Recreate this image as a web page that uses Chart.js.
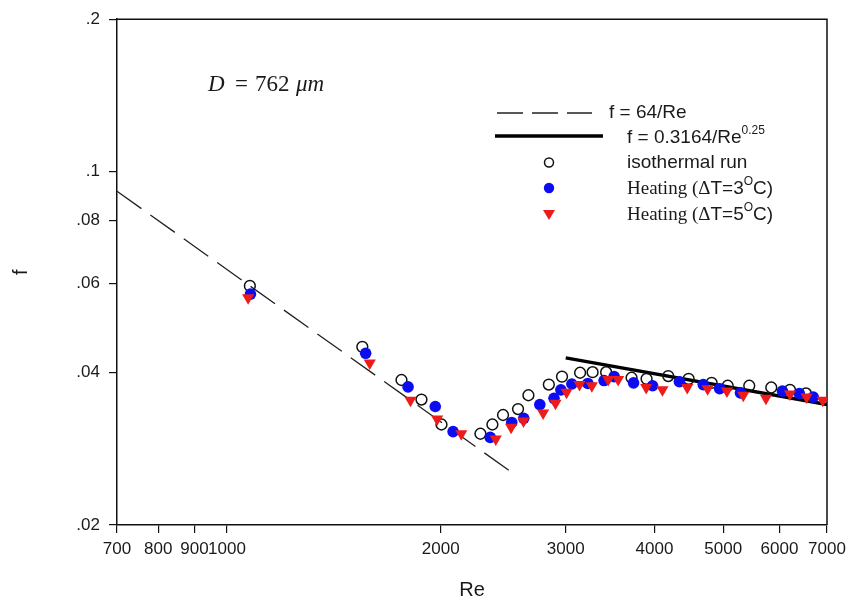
<!DOCTYPE html>
<html>
<head>
<meta charset="utf-8">
<script src="https://cdn.jsdelivr.net/npm/chart.js@4.4.1/dist/chart.umd.min.js"></script>
<style>
  html, body { margin: 0; padding: 0; background: #fff; }
  #wrap { width: 853px; height: 605px; position: relative; }
</style>
</head>
<body>
<div id="wrap"><canvas id="c" width="853" height="605"></canvas></div>
<script>
// ---- data ----
const isoRe = [1077, 1551, 1761, 1879, 2005, 2275, 2365, 2448, 2570, 2658, 2840, 2964, 3143, 3273, 3420, 3714, 3899, 4183, 4469, 4815, 5073, 5440, 5843, 6208, 6538];
const isoF  = [0.0594, 0.0450, 0.0387, 0.0354, 0.0316, 0.0303, 0.0316, 0.0330, 0.0339, 0.0361, 0.0379, 0.0393, 0.0400, 0.0401, 0.0401, 0.0391, 0.0389, 0.0394, 0.0389, 0.0382, 0.0377, 0.0377, 0.0374, 0.0370, 0.0364];

const heat3Re = [1079, 1568, 1799, 1965, 2082, 2348, 2518, 2618, 2758, 2888, 2953, 3060, 3223, 3397, 3510, 3738, 3976, 4337, 4686, 4942, 5287, 6058, 6398, 6695];
const heat3F  = [0.0572, 0.0437, 0.0375, 0.0343, 0.0306, 0.0298, 0.0319, 0.0325, 0.0346, 0.0356, 0.0370, 0.0380, 0.0381, 0.0386, 0.0393, 0.0382, 0.0377, 0.0384, 0.0379, 0.0372, 0.0365, 0.0368, 0.0364, 0.0358];

const heat5Re = [1071, 1589, 1813, 1977, 2138, 2391, 2513, 2616, 2788, 2902, 3008, 3137, 3265, 3443, 3556, 3894, 4105, 4449, 4753, 5060, 5335, 5743, 6208, 6553, 6903];
const heat5F  = [0.0563, 0.0418, 0.0353, 0.0324, 0.0303, 0.0296, 0.0312, 0.0321, 0.0333, 0.0348, 0.0366, 0.0379, 0.0377, 0.0388, 0.0388, 0.0374, 0.0370, 0.0374, 0.0372, 0.0368, 0.0361, 0.0356, 0.0363, 0.0358, 0.0353];

const lamRe  = [700, 2500];      // f = 64/Re
const lamF   = [0.0914, 0.0256];
const turbRe = [3000, 7000];     // f = 0.3164/Re^0.25
const turbF  = [0.0428, 0.0346];

const xTicks = [700, 800, 900, 1000, 2000, 3000, 4000, 5000, 6000, 7000];
const yTicks = [0.02, 0.04, 0.06, 0.08, 0.1, 0.2];

const pts = (xs, ys) => xs.map((x, i) => ({ x: x, y: ys[i] }));

const SANS = '"Liberation Sans", Arial, sans-serif';
const SERIF = '"Liberation Serif", "Times New Roman", serif';
const TXT = '#1a1a1a';

// frame (top/right) + legend + annotation
const decor = {
  id: 'decor',
  beforeDatasetsDraw(chart) {
    const { ctx, chartArea: a } = chart;
    ctx.save();
    ctx.strokeStyle = '#111';
    ctx.lineWidth = 1.5;
    ctx.beginPath();
    ctx.moveTo(a.left, a.top);
    ctx.lineTo(a.right, a.top);
    ctx.lineTo(a.right, a.bottom);
    ctx.stroke();
    ctx.restore();
  },
  afterDraw(chart) {
    const { ctx } = chart;
    ctx.save();
    ctx.textBaseline = 'middle';
    ctx.fillStyle = TXT;

    // legend samples
    ctx.strokeStyle = '#222';
    ctx.lineWidth = 1.3;
    ctx.setLineDash([26, 9]);
    ctx.beginPath(); ctx.moveTo(497, 113); ctx.lineTo(592, 113); ctx.stroke();
    ctx.setLineDash([]);
    ctx.strokeStyle = '#000';
    ctx.lineWidth = 3.5;
    ctx.beginPath(); ctx.moveTo(495, 136); ctx.lineTo(603, 136); ctx.stroke();

    ctx.lineWidth = 1.5;
    ctx.strokeStyle = '#111';
    ctx.beginPath(); ctx.arc(549, 162.5, 4.5, 0, Math.PI * 2); ctx.stroke();
    ctx.fillStyle = '#0c0cf0';
    ctx.beginPath(); ctx.arc(549, 188, 5.2, 0, Math.PI * 2); ctx.fill();
    ctx.fillStyle = '#ee1b1b';
    ctx.beginPath(); ctx.moveTo(543, 210); ctx.lineTo(555, 210); ctx.lineTo(549, 220); ctx.closePath(); ctx.fill();

    // legend texts
    const seg = (parts, x, y) => {
      for (const p of parts) {
        ctx.font = p.f;
        const yy = y + (p.dy || 0);
        ctx.fillStyle = TXT;
        ctx.fillText(p.t, x, yy);
        x += ctx.measureText(p.t).width;
      }
    };
    const L = '19px ' + SANS, S = '12px ' + SANS, R = '19px ' + SERIF;
    seg([{ t: 'f = 64/Re', f: L }], 609, 113);
    seg([{ t: 'f = 0.3164/Re', f: L }, { t: '0.25', f: S, dy: -7 }], 627, 138);
    seg([{ t: 'isothermal run', f: L }], 627, 163);
    seg([{ t: 'Heating (\u0394', f: R }, { t: 'T=3', f: L }, { t: 'O', f: S, dy: -7 }, { t: 'C)', f: L }], 627, 189);
    seg([{ t: 'Heating (\u0394', f: R }, { t: 'T=5', f: L }, { t: 'O', f: S, dy: -7 }, { t: 'C)', f: L }], 627, 215);

    // annotation D = 762 um
    ctx.fillStyle = TXT;
    ctx.font = 'italic 23px ' + SERIF;
    ctx.fillText('D', 208, 85);
    ctx.font = '23px ' + SERIF;
    ctx.fillText('=', 235, 85);
    ctx.fillText('762', 255, 85);
    ctx.font = 'italic 23px ' + SERIF;
    ctx.fillText('\u03bcm', 296, 85);
    ctx.restore();
  }
};

new Chart(document.getElementById('c'), {
  type: 'scatter',
  data: {
    datasets: [
      { label: 'f = 64/Re', data: pts(lamRe, lamF), showLine: true, pointRadius: 0,
        borderColor: '#222', borderWidth: 1.3, borderDash: [30, 11], order: 4 },
      { label: 'f = 0.3164/Re^0.25', data: pts(turbRe, turbF), showLine: true, pointRadius: 0,
        borderColor: '#000', borderWidth: 3.5, order: 3 },
      { label: 'isothermal run', data: pts(isoRe, isoF), pointStyle: 'circle', pointRadius: 5.4,
        borderColor: '#111', borderWidth: 1.5, backgroundColor: 'rgba(0,0,0,0)', order: 2 },
      { label: 'Heating (\u0394T=3\u00b0C)', data: pts(heat3Re, heat3F), pointStyle: 'circle', pointRadius: 5.8,
        borderWidth: 0, borderColor: '#0c0cf0', backgroundColor: '#0c0cf0', order: 1 },
      { label: 'Heating (\u0394T=5\u00b0C)', data: pts(heat5Re, heat5F), pointStyle: 'triangle', rotation: 180,
        pointRadius: 7, borderWidth: 0, borderColor: '#ee1b1b', backgroundColor: '#ee1b1b', order: 0 }
    ]
  },
  options: {
    responsive: false,
    animation: false,
    events: [],
    layout: { padding: { top: 17, right: 26, left: 0, bottom: 0 } },
    plugins: { legend: { display: false }, tooltip: { enabled: false } },
    scales: {
      x: {
        type: 'logarithmic', position: 'bottom', min: 700, max: 7000,
        afterBuildTicks: s => { s.ticks = xTicks.map(v => ({ value: v })); },
        afterFit: s => { s.height = 80; },
        ticks: { autoSkip: false, maxRotation: 0, minRotation: 0, padding: 6, color: TXT,
                 font: { size: 17, family: SANS }, callback: v => String(v) },
        grid: { drawOnChartArea: false, drawTicks: true, tickLength: 8, color: '#111', lineWidth: 1.2 },
        border: { display: true, color: '#111', width: 1.5 },
        title: { display: true, text: 'Re', color: TXT, font: { size: 20, family: SANS }, padding: { top: 0, bottom: 3 } }
      },
      y: {
        type: 'logarithmic', position: 'left', min: 0.02, max: 0.2,
        afterBuildTicks: s => { s.ticks = yTicks.map(v => ({ value: v })); },
        afterFit: s => { s.width = 117; },
        ticks: { autoSkip: false, padding: 9, color: TXT,
                 font: { size: 17, family: SANS }, callback: v => String(v).replace(/^0/, '') },
        grid: { drawOnChartArea: false, drawTicks: true, tickLength: 8, color: '#111', lineWidth: 1.2 },
        border: { display: true, color: '#111', width: 1.5 },
        title: { display: true, text: 'f', color: TXT, font: { size: 20, family: SANS }, padding: { top: 9, bottom: 0 } }
      }
    }
  },
  plugins: [decor]
});
</script>
</body>
</html>
